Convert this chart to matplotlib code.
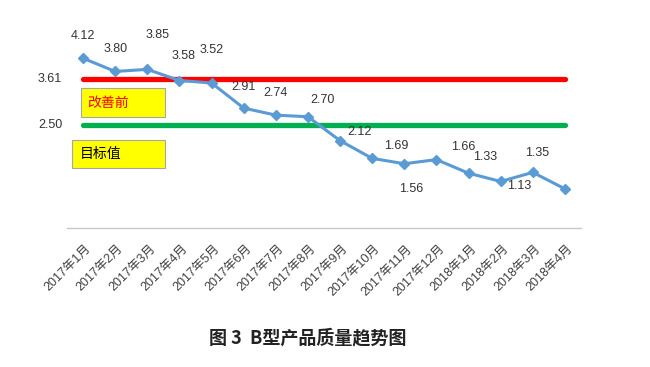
import matplotlib
matplotlib.use("Agg")
import matplotlib.pyplot as plt
from matplotlib.patches import Rectangle

plt.rcParams['font.family'] = ['Liberation Sans', 'Noto Sans CJK SC', 'DejaVu Sans']

# ---- data ----
months = ["2017年1月", "2017年2月", "2017年3月", "2017年4月", "2017年5月", "2017年6月",
          "2017年7月", "2017年8月", "2017年9月", "2017年10月", "2017年11月", "2017年12月",
          "2018年1月", "2018年2月", "2018年3月", "2018年4月"]
quality = [4.12, 3.80, 3.85, 3.58, 3.52, 2.91, 2.74, 2.70, 2.12, 1.69, 1.56, 1.66,
           1.33, 1.13, 1.35, 0.95]
shown_labels = ["4.12", "3.80", "3.85", "3.58", "3.52", "2.91", "2.74", "2.70", "2.12",
                "1.69", "1.56", "1.66", "1.33", "1.13", "1.35", None]
before_value = 3.61
target_value = 2.50
before_name = "改善前"
target_name = "目标值"
caption = "图 3  B型产品质量趋势图"

# label offsets in pixels (dx, dy) relative to each point
label_offsets = [(0, 22), (0, 22), (10, 34), (4, 25), (0, 33), (0, 21), (0, 22), (15, 17),
                 (19, 9), (24, 12), (7, -25), (27, 13), (17, 16), (19, -5), (4, 19), (0, 0)]

W, H = 650, 367
fig = plt.figure(figsize=(W / 100, H / 100), dpi=100)
ax = fig.add_axes([67 / W, (H - 228) / H, 514 / W, 206 / H])
x = list(range(len(months)))
ax.set_xlim(-0.5, len(months) - 0.5)
ax.set_ylim(0, 5)

# reference lines as series
ax.plot(x, [before_value] * len(x), color="#FF0000", lw=3.8, solid_capstyle="round", zorder=2)
ax.plot(x, [target_value] * len(x), color="#00B050", lw=3.8, solid_capstyle="round", zorder=2)

# main series
ax.plot(x, quality, color="#5B9BD5", lw=2.2, marker="D", markersize=5.5,
        markerfacecolor="#5B9BD5", markeredgecolor="#5B9BD5", zorder=3)

for xi, v, lab, (dx, dy) in zip(x, quality, shown_labels, label_offsets):
    if lab is None:
        continue
    ax.annotate(lab, (xi, v), xytext=(dx, dy), textcoords="offset pixels",
                ha="center", va="center", fontsize=9, color="#333333", zorder=4)

# labels of reference lines at the left
ax.annotate(f"{before_value:.2f}", (0, before_value), xytext=(-33, 0), textcoords="offset pixels",
            ha="center", va="center", fontsize=9, color="#333333")
ax.annotate(f"{target_value:.2f}", (0, target_value), xytext=(-33, 0), textcoords="offset pixels",
            ha="center", va="center", fontsize=9, color="#333333")

# yellow boxes (figure pixel coords)
def px_box(x0, y0, x1, y1):
    return Rectangle((x0 / W, 1 - y1 / H), (x1 - x0) / W, (y1 - y0) / H,
                     transform=fig.transFigure, facecolor="#FFFF00",
                     edgecolor="#A6A6A6", lw=0.8, zorder=5)

fig.patches.append(px_box(81, 88, 165, 117))
fig.patches.append(px_box(72, 140, 165, 168))
fig.text(87 / W, 1 - 102.5 / H, before_name, ha="left", va="center", fontsize=10,
         color="#FF0000", family=["Noto Sans CJK SC"], zorder=6)
fig.text(80 / W, 1 - 154 / H, target_name, ha="left", va="center", fontsize=10,
         color="#000000", family=["Noto Sans CJK SC"], zorder=6)

# axes styling
for s in ["top", "right", "left"]:
    ax.spines[s].set_visible(False)
ax.spines["bottom"].set_color("#C8C8C8")
ax.spines["bottom"].set_linewidth(1.0)
ax.set_yticks([])
ax.set_xticks(x)
ax.tick_params(axis="x", length=0)
ax.set_xticklabels([])
for xi, m in zip(x, months):
    ax.annotate(m, (xi, 0), xytext=(6, -19), textcoords="offset pixels",
                ha="right", va="center", rotation=45, rotation_mode="anchor",
                fontsize=9, color="#404040",
                family=["Liberation Sans", "Noto Sans CJK SC"], annotation_clip=False)

fig.text(308 / W, 1 - 338 / H, caption, ha="center", va="center", fontsize=13,
         fontweight="bold", color="#222222", family=["Noto Sans CJK SC"])

fig.savefig("out.png", dpi=100)
